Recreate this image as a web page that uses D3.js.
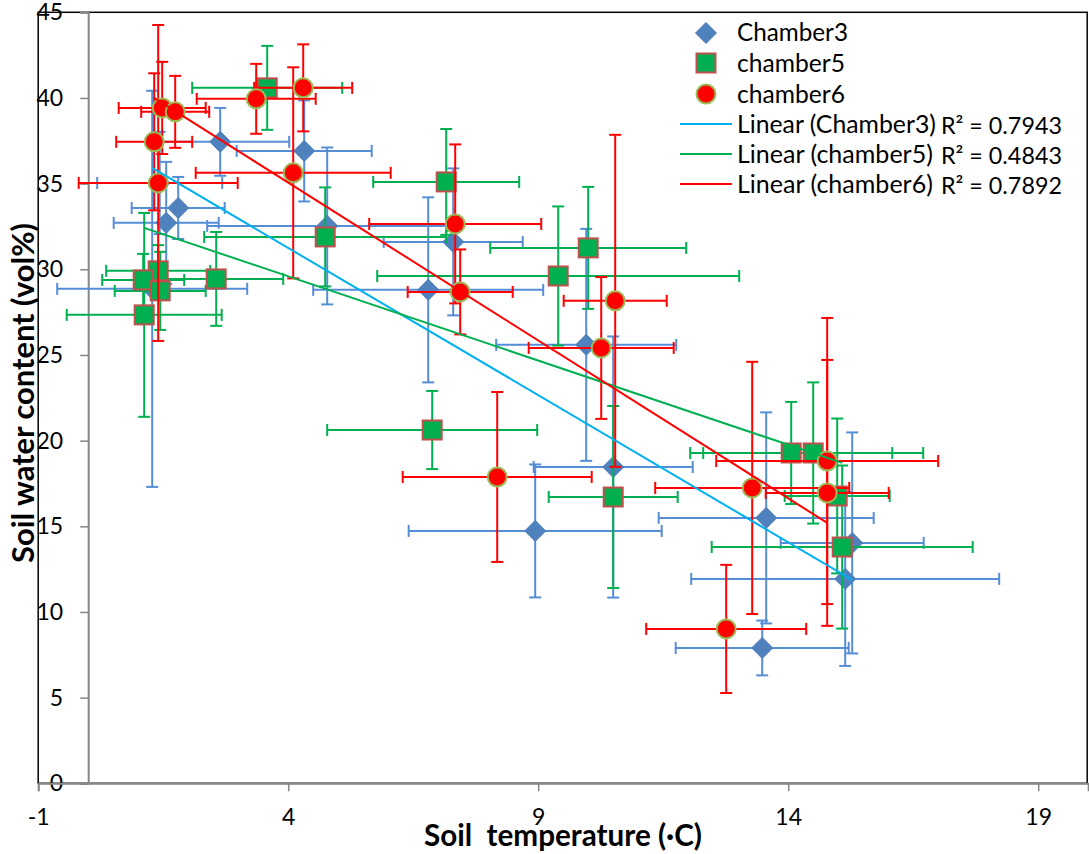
<!DOCTYPE html>
<html><head><meta charset="utf-8">
<script src="https://cdn.jsdelivr.net/npm/d3@7"></script>
<style>body{margin:0;background:#fff}svg{display:block}text{font-family:Lato,"Open Sans",sans-serif}</style>
</head><body><svg id="c" width="1089" height="854"></svg>
<script>
// ---- data ----
const xTicks = [-1, 4, 9, 14, 19];
const yTicks = [0, 5, 10, 15, 20, 25, 30, 35, 40, 45];
const seriesNames = ["Chamber3", "chamber5", "chamber6"];
const trendNames = ["Linear (Chamber3)", "Linear (chamber5)", "Linear (chamber6)"];
const r2Labels = ["R\u00B2 = 0.7943", "R\u00B2 = 0.4843", "R\u00B2 = 0.7892"];

// Chamber3: temperature, water content, x-error, y-error
const c3x  = [2.64, 4.32, 1.80, 1.56, 1.43, 1.28, 4.78, 7.30, 6.80, 9.96, 10.50, 8.94, 13.56, 15.28, 15.14, 13.48];
const c3y  = [37.44, 36.91, 33.58, 32.71, 35.04, 28.86, 32.53, 31.60, 28.80, 25.59, 18.46, 14.73, 15.49, 14.03, 11.93, 7.90];
const c3ex = [1.38, 1.35, 0.93, 1.05, 1.25, 1.90, 2.40, 1.39, 2.30, 1.80, 1.59, 2.53, 2.15, 1.43, 3.08, 1.73];
const c3ey = [1.98, 2.95, 1.81, 3.56, 2.98, 11.56, 4.58, 4.29, 5.40, 6.77, 7.62, 3.88, 6.16, 6.45, 5.08, 1.60];

// chamber5
const c5x  = [3.58, 7.16, 9.40, 10.00, 4.74, 2.56, 1.40, 1.10, 1.44, 1.12, 6.88, 10.50, 14.06, 14.50, 14.98, 15.08];
const c5y  = [40.59, 35.10, 29.61, 31.25, 31.89, 29.44, 29.91, 29.38, 28.74, 27.34, 20.62, 16.71, 19.28, 19.28, 16.77, 13.79];
const c5ex = [1.50, 1.46, 3.62, 1.96, 2.42, 1.34, 1.04, 0.82, 0.91, 1.55, 2.10, 1.29, 2.02, 2.20, 1.05, 2.61];
const c5ey = [2.45, 3.09, 4.06, 3.56, 2.89, 2.74, 1.50, 1.52, 2.28, 5.95, 2.28, 5.31, 2.98, 4.12, 4.52, 4.76];

// chamber6
const c6x  = [1.48, 1.74, 1.32, 1.40, 3.36, 4.30, 4.10, 7.34, 7.44, 10.54, 10.26, 8.18, 13.28, 14.78, 14.78, 12.76];
const c6y  = [39.42, 39.19, 37.44, 35.04, 39.95, 40.59, 35.63, 32.65, 28.68, 28.16, 25.41, 17.88, 17.24, 18.81, 16.95, 9.01];
const c6ex = [0.87, 0.68, 0.76, 1.59, 1.19, 0.98, 1.95, 1.72, 1.05, 1.03, 1.45, 1.89, 1.94, 2.22, 1.23, 1.60];
const c6ey = [2.69, 2.10, 4.00, 9.22, 2.04, 2.54, 6.16, 4.64, 2.48, 9.69, 4.14, 4.96, 7.36, 8.35, 7.76, 3.74];

// linear trendline end points [x0, y0, x1, y1]
const trend3 = [1.28, 35.92, 15.28, 11.87];
const trend5 = [1.12, 32.42, 15.08, 18.70];
const trend6 = [1.32, 40.00, 14.78, 15.20];

// ---- drawing ----
const svg = d3.select("#c");
const L = 38.2, R = 1088.2, T = 12.3, B = 783.3;
const x = d3.scaleLinear().domain([-1, 20]).range([L, R]);
const y = d3.scaleLinear().domain([0, 45]).range([B, T]);

const axisCol = "#868686";
const cols = {
  bar: ["#558ED5", "#00B050", "#FF0000"],
  trend: ["#00B0F0", "#00B050", "#FF0000"]
};

// fit a text element's width to a target by adjusting its font size
function fit(sel, target) {
  const n = sel.node();
  const fs = parseFloat(sel.attr("font-size"));
  const w = n.getComputedTextLength();
  if (w > 0) sel.attr("font-size", (fs * target / w).toFixed(2));
  return sel;
}

// plot border
svg.append("rect").attr("x", L).attr("y", T).attr("width", R - L - 1).attr("height", B - T)
  .attr("fill", "none").attr("stroke", "#000").attr("stroke-width", 1.5);

// y axis at x = 0
const yAxis = svg.append("g").attr("transform", `translate(${x(0)},0)`)
  .call(d3.axisLeft(y).tickValues(yTicks).tickSize(8).tickPadding(17).tickFormat(d => String(d)));
yAxis.select(".domain").attr("stroke", axisCol).attr("stroke-width", 2);
yAxis.selectAll(".tick line").attr("stroke", axisCol).attr("stroke-width", 1.5);
yAxis.selectAll(".tick text").attr("font-size", 23).attr("fill", "#000").attr("font-family", "Lato");

// x axis at y = 0
const xAxis = svg.append("g").attr("transform", `translate(0,${y(0)})`)
  .call(d3.axisBottom(x).tickValues(xTicks).tickSize(8).tickPadding(17).tickFormat(d => String(d)));
xAxis.select(".domain").attr("stroke", axisCol).attr("stroke-width", 2);
xAxis.selectAll(".tick line").attr("stroke", axisCol).attr("stroke-width", 1.5);
xAxis.selectAll(".tick text").attr("font-size", 23).attr("fill", "#000").attr("font-family", "Lato");

// axis titles
fit(svg.append("text").attr("x", 563).attr("y", 846).attr("text-anchor", "middle")
  .attr("font-size", 25).attr("font-weight", "bold").attr("xml:space", "preserve")
  .text("Soil  temperature (\u00B7C)"), 278);
fit(svg.append("text").attr("transform", "translate(34,393) rotate(-90)").attr("text-anchor", "middle")
  .attr("font-size", 25).attr("font-weight", "bold").text("Soil water content (vol%)"), 340);

const series = [
  {xs: c3x, ys: c3y, ex: c3ex, ey: c3ey},
  {xs: c5x, ys: c5y, ex: c5ex, ey: c5ey},
  {xs: c6x, ys: c6y, ex: c6ex, ey: c6ey}
];
const cap = 6;

function marker(g, k, cx, cy) {
  if (k === 0) {
    g.append("path").attr("d", `M${cx},${cy - 10.5}L${cx + 10.5},${cy}L${cx},${cy + 10.5}L${cx - 10.5},${cy}Z`)
      .attr("fill", "#4F81BD").attr("stroke", "#4A7EBB").attr("stroke-width", 1);
  } else if (k === 1) {
    g.append("rect").attr("x", cx - 9.5).attr("y", cy - 9.5).attr("width", 19).attr("height", 19)
      .attr("fill", "#00B050").attr("stroke", "#C0504D").attr("stroke-width", 2);
  } else {
    g.append("circle").attr("cx", cx).attr("cy", cy).attr("r", 9.5)
      .attr("fill", "#FF0000").attr("stroke", "#9BBB59").attr("stroke-width", 2);
  }
}

series.forEach((s, k) => {
  const g = svg.append("g");
  const c = cols.bar[k];
  s.xs.forEach((xv, i) => {
    const cx = x(xv), cy = y(s.ys[i]);
    const x0 = x(xv - s.ex[i]), x1 = x(xv + s.ex[i]);
    const y0 = y(s.ys[i] + s.ey[i]), y1 = y(s.ys[i] - s.ey[i]);
    const eb = g.append("g").attr("stroke", c).attr("stroke-width", 2).attr("fill", "none");
    eb.append("line").attr("x1", x0).attr("x2", x1).attr("y1", cy).attr("y2", cy);
    eb.append("line").attr("x1", x0).attr("x2", x0).attr("y1", cy - cap).attr("y2", cy + cap);
    eb.append("line").attr("x1", x1).attr("x2", x1).attr("y1", cy - cap).attr("y2", cy + cap);
    eb.append("line").attr("x1", cx).attr("x2", cx).attr("y1", y0).attr("y2", y1);
    eb.append("line").attr("x1", cx - cap).attr("x2", cx + cap).attr("y1", y0).attr("y2", y0);
    eb.append("line").attr("x1", cx - cap).attr("x2", cx + cap).attr("y1", y1).attr("y2", y1);
  });
  s.xs.forEach((xv, i) => marker(g, k, x(xv), y(s.ys[i])));
});

// trendlines
[trend3, trend5, trend6].forEach((t, k) => {
  svg.append("line").attr("x1", x(t[0])).attr("y1", y(t[1])).attr("x2", x(t[2])).attr("y2", y(t[3]))
    .attr("stroke", cols.trend[k]).attr("stroke-width", 2);
});

// legend
const lg = svg.append("g");
const rowY = [33, 63, 94, 124, 154, 184];
const nameW = [111, 108, 108];
const trendW = [199, 196, 196];
seriesNames.forEach((n, k) => {
  marker(lg, k, 706, rowY[k]);
  fit(lg.append("text").attr("x", 737).attr("y", rowY[k]).attr("dy", "0.35em").attr("font-size", 24).text(n), nameW[k]);
});
trendNames.forEach((n, k) => {
  const yy = rowY[k + 3];
  lg.append("line").attr("x1", 680).attr("x2", 732).attr("y1", yy).attr("y2", yy)
    .attr("stroke", cols.trend[k]).attr("stroke-width", 2);
  fit(lg.append("text").attr("x", 737).attr("y", yy).attr("dy", "0.35em").attr("font-size", 24).text(n), trendW[k]);
  fit(lg.append("text").attr("x", 941).attr("y", yy + 2).attr("dy", "0.35em").attr("font-size", 24).text(r2Labels[k]), 121);
});
</script></body></html>
